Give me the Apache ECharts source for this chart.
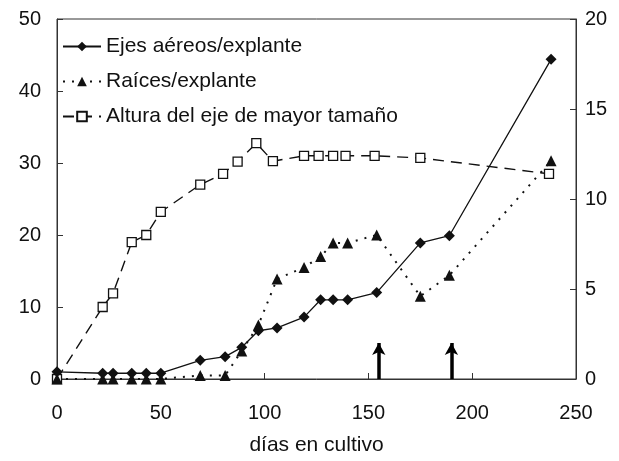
<!DOCTYPE html>
<html>
<head>
<meta charset="utf-8">
<script src="https://cdn.jsdelivr.net/npm/echarts@6/dist/echarts.min.js"></script>
<style>html,body{margin:0;padding:0;background:#fff}#c{width:619px;height:461px}</style>
</head>
<body>
<div id="c"></div>
<script>
var ejesDays   = [0, 22, 27, 36, 43, 50, 69, 81, 89, 97, 106, 119, 127, 133, 140, 154, 175, 189, 238];
var ejesVals   = [1.0, 0.8, 0.8, 0.8, 0.8, 0.8, 2.6, 3.1, 4.4, 6.7, 7.1, 8.6, 11.0, 11.0, 11.0, 12.0, 18.9, 19.9, 44.4];
var raicesDays = [0, 22, 27, 36, 43, 50, 69, 81, 89, 97, 106, 119, 127, 133, 140, 154, 175, 189, 238];
var raicesVals = [0, 0, 0, 0, 0, 0, 0.5, 0.5, 3.9, 7.5, 13.9, 15.5, 17.0, 18.9, 18.9, 20.0, 11.5, 14.4, 30.3];
var alturaDays = [0, 22, 27, 36, 43, 50, 69, 80, 87, 96, 104, 119, 126, 133, 139, 153, 175, 237];
var alturaVals = [0, 4.0, 4.76, 7.6, 8.0, 9.28, 10.8, 11.4, 12.08, 13.1, 12.1, 12.4, 12.4, 12.4, 12.4, 12.4, 12.28, 11.4];
var arrowDays  = [155, 190];
var arrowTop   = 5;
var names = ['Ejes aéreos/explante', 'Raíces/explante', 'Altura del eje de mayor tamaño'];

function pairs(xs, ys){ return xs.map(function(x,i){ return [x, ys[i]]; }); }

var chart = echarts.init(document.getElementById('c'), null, {renderer:'canvas'});
var font = 'Liberation Sans, Arial, sans-serif';
var axisCommon = {
  axisLine:{show:true, lineStyle:{color:'#333', width:1}},
  axisTick:{show:true, inside:true, length:6, lineStyle:{color:'#333'}},
  splitLine:{show:false},
  axisLabel:{color:'#111', fontSize:20, fontFamily:font}
};
chart.setOption({
  animation:false,
  backgroundColor:'#fff',
  grid:{left:57, right:43, top:19, bottom:82, show:true, borderColor:'#333', borderWidth:1, backgroundColor:'transparent'},
  legend:{
    orient:'vertical', left:57, top:31, itemGap:14, itemWidth:38, itemHeight:12,
    data:names,
    textStyle:{fontSize:21, fontFamily:font, color:'#111'}
  },
  xAxis:Object.assign({}, axisCommon, {
    type:'value', min:0, max:250, interval:50,
    axisLabel:Object.assign({}, axisCommon.axisLabel, {margin:24}),
    name:'días en cultivo', nameLocation:'middle', nameGap:56,
    nameTextStyle:{fontSize:21, fontFamily:font, color:'#111'}
  }),
  yAxis:[
    Object.assign({}, axisCommon, {type:'value', min:0, max:50, interval:10,
      axisLabel:Object.assign({}, axisCommon.axisLabel, {margin:16})}),
    Object.assign({}, axisCommon, {type:'value', min:0, max:20, interval:5, position:'right',
      axisLabel:Object.assign({}, axisCommon.axisLabel, {margin:9})})
  ],
  series:[
    {
      name:names[0], type:'line', yAxisIndex:0, data:pairs(ejesDays, ejesVals),
      symbol:'diamond', symbolSize:11,
      itemStyle:{color:'#111'}, lineStyle:{color:'#111', width:1.3, type:'solid'},
      z:5,
      markLine:{
        silent:true, symbol:['none','arrow'], symbolSize:[10,12],
        label:{show:false},
        lineStyle:{color:'#000', width:3.5, type:'solid'},
        data:arrowDays.map(function(d){ return [{coord:[d,0]},{coord:[d,arrowTop]}]; })
      }
    },
    {
      name:names[1], type:'line', yAxisIndex:0, data:pairs(raicesDays, raicesVals),
      symbol:'triangle', symbolSize:11,
      itemStyle:{color:'#111'}, lineStyle:{color:'#111', width:2, type:[2,7]},
      z:4
    },
    {
      name:names[2], type:'line', yAxisIndex:1, data:pairs(alturaDays, alturaVals),
      symbol:'rect', symbolSize:9,
      itemStyle:{color:'#fff', borderColor:'#111', borderWidth:1.3}, lineStyle:{color:'#111', width:1.4, type:[11,7]},
      z:3
    }
  ]
});
</script>
</body>
</html>
